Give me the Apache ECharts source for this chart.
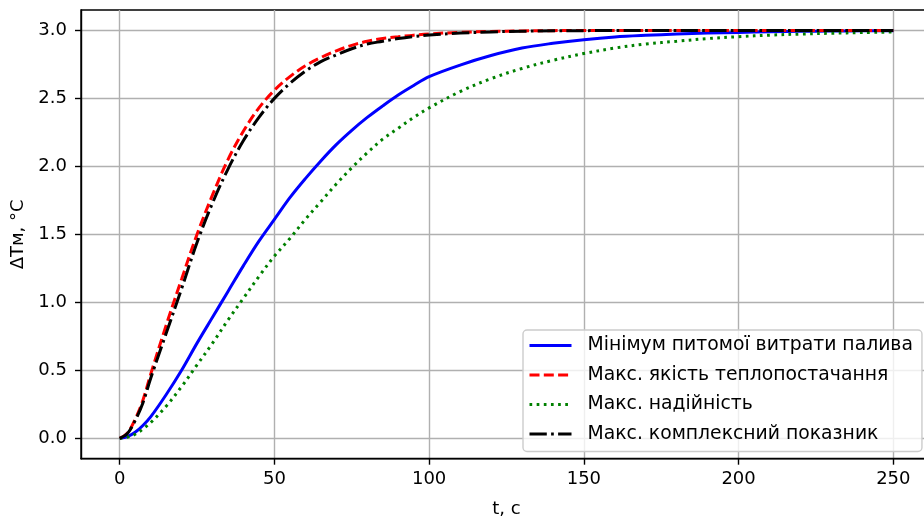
<!DOCTYPE html>
<html>
<head>
<meta charset="utf-8">
<script src="https://cdn.jsdelivr.net/npm/echarts@6/dist/echarts.min.js"></script>
<style>html,body{margin:0;padding:0;background:#fff;}#c{width:924px;height:518px;}</style>
</head>
<body>
<div id="c"></div>
<script>
const tValues = [0, 2.5, 5, 7.5, 10, 15, 20, 25, 30, 35, 40, 45, 50, 55, 60, 65, 70, 75, 80, 85, 90, 95, 100,
  110, 120, 130, 140, 150, 160, 170, 180, 190, 200, 210, 220, 230, 240, 250];
const minFuel = [0, 0.012, 0.044, 0.094, 0.157, 0.32, 0.50, 0.70, 0.89, 1.08, 1.27, 1.45, 1.61, 1.77, 1.91, 2.04, 2.16, 2.265, 2.36, 2.445, 2.525, 2.595, 2.66,
  2.745, 2.815, 2.87, 2.905, 2.932, 2.952, 2.964, 2.973, 2.98, 2.985, 2.99, 2.993, 2.995, 2.997, 2.998];
const maxQuality = [0, 0.04, 0.14, 0.28, 0.47, 0.83, 1.17, 1.50, 1.79, 2.05, 2.26, 2.43, 2.56, 2.66, 2.74, 2.80, 2.85, 2.89, 2.92, 2.94, 2.953, 2.965, 2.974,
  2.986, 2.992, 2.996, 2.998, 3.0, 3.0, 3.0, 3.0, 3.0, 3.0, 3.0, 3.0, 3.0, 3.0, 3.0];
const maxReliability = [0, 0.008, 0.03, 0.068, 0.115, 0.235, 0.38, 0.54, 0.70, 0.87, 1.03, 1.19, 1.34, 1.47, 1.61, 1.74, 1.87, 1.99, 2.10, 2.20, 2.28, 2.36, 2.43,
  2.55, 2.645, 2.72, 2.78, 2.83, 2.87, 2.90, 2.92, 2.94, 2.954, 2.965, 2.973, 2.979, 2.984, 2.988];
const maxComplex = [0, 0.035, 0.13, 0.26, 0.44, 0.77, 1.10, 1.44, 1.73, 1.98, 2.19, 2.36, 2.50, 2.61, 2.70, 2.77, 2.82, 2.865, 2.90, 2.92, 2.94, 2.955, 2.966,
  2.98, 2.989, 2.994, 2.997, 2.998, 3.0, 3.0, 3.0, 3.0, 3.0, 3.0, 3.0, 3.0, 3.0, 3.0];
const seriesNames = ['Мінімум питомої витрати палива', 'Макс. якість теплопостачання', 'Макс. надійність', 'Макс. комплексний показник'];
const xTicks = [0, 50, 100, 150, 200, 250];
const yTicks = [0.0, 0.5, 1.0, 1.5, 2.0, 2.5, 3.0];
const xLabel = 't, c';
const yLabel = 'ΔTм, °C';

const FONT = 'DejaVu Sans';
const LW = 3;
function pairs(arr) { return tValues.map((t, i) => [t, arr[i]]); }
function mk(name, data, color, dash) {
  return {
    name: name, type: 'line', data: pairs(data), showSymbol: false, symbol: 'none',
    smooth: 0.35, animation: false,
    lineStyle: { color: color, width: LW, type: dash, cap: 'butt' },
    itemStyle: { color: color }
  };
}
const chart = echarts.init(document.getElementById('c'), null, { renderer: 'canvas' });
chart.setOption({
  animation: false,
  backgroundColor: '#ffffff',
  grid: { left: 81, right: -8, top: 10, bottom: 59.3, outerBoundsMode: 'none', containLabel: false,
    show: true, borderColor: '#000', borderWidth: 1.4, backgroundColor: 'transparent' },
  xAxis: {
    type: 'value', min: -12.5, max: 262.5,
    name: xLabel, nameLocation: 'middle', nameGap: 42,
    nameTextStyle: { fontFamily: FONT, fontSize: 18, color: '#000' },
    axisLine: { show: true, onZero: false, lineStyle: { color: '#000', width: 1.4 } },
    axisTick: { show: true, length: 6, customValues: xTicks, lineStyle: { color: '#000', width: 1.4 } },
    axisLabel: { customValues: xTicks, margin: 12, fontFamily: FONT, fontSize: 18, color: '#000',
      formatter: v => String(v) },
    splitLine: { show: true, lineStyle: { color: '#b0b0b0', width: 1.4 } }
  },
  yAxis: {
    type: 'value', min: -0.15, max: 3.15,
    name: yLabel, nameLocation: 'middle', nameGap: 54, nameRotate: 90,
    nameTextStyle: { fontFamily: FONT, fontSize: 18, color: '#000' },
    axisLine: { show: true, onZero: false, lineStyle: { color: '#000', width: 1.4 } },
    axisTick: { show: true, length: 6, customValues: yTicks, lineStyle: { color: '#000', width: 1.4 } },
    axisLabel: { customValues: yTicks, margin: 14, fontFamily: FONT, fontSize: 18, color: '#000',
      formatter: v => Number(v).toFixed(1) },
    splitLine: { show: true, lineStyle: { color: '#b0b0b0', width: 1.4 } }
  },
  legend: {
    orient: 'vertical', left: 523, top: 330,
    padding: [6, 9, 8, 5], itemGap: 10.5, itemWidth: 42, itemHeight: 14,
    backgroundColor: 'rgba(255,255,255,0.8)', borderColor: '#cccccc', borderWidth: 1.4, borderRadius: 4,
    itemStyle: { opacity: 0 },
    lineStyle: { width: LW },
    textStyle: { fontFamily: FONT, fontSize: 18.8, color: '#000', lineHeight: 18, padding: [0, 0, 0, 11] },
    data: seriesNames
  },
  series: [
    mk(seriesNames[0], minFuel, '#0000ff', 'solid'),
    mk(seriesNames[1], maxQuality, '#ff0000', [10, 4.3]),
    mk(seriesNames[2], maxReliability, '#008000', [2.7, 4.45]),
    mk(seriesNames[3], maxComplex, '#000000', [17.3, 4.3, 2.7, 4.3])
  ]
});
</script>
</body>
</html>
